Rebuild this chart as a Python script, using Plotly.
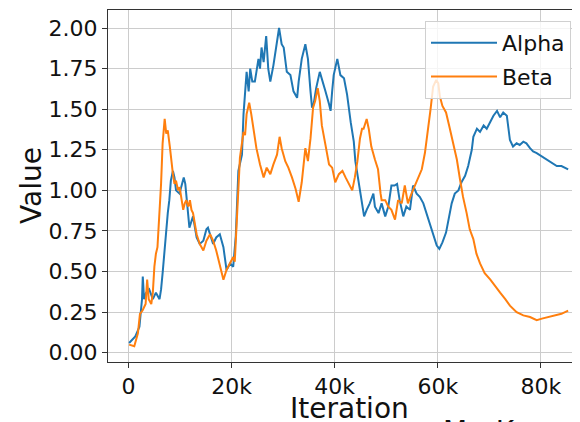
import plotly.graph_objects as go

# ---- data (iterations in thousands, values) ----
alpha_iter_k = [0.1, 1.3, 2.1, 2.6, 2.75, 3.0, 3.4, 4.0, 4.7, 5.3, 6.0, 6.3, 6.6, 6.9, 7.3, 7.6, 7.9, 8.2, 8.6, 8.9,
                9.2, 9.9, 10.2, 10.7, 11.0, 11.5, 11.8, 12.5, 13.2, 13.8, 14.5, 15.1, 15.4, 15.8, 16.4, 17.0, 17.7,
                18.4, 19.0, 19.7, 20.3, 20.8, 21.3, 22.0, 22.3, 22.9, 23.3, 23.6, 24.0, 24.5, 25.2, 25.5, 25.8,
                26.2, 26.7, 27.1, 27.5, 28.1, 28.8, 29.2, 29.7, 30.1, 30.7, 31.4, 32.0, 32.7, 33.0, 33.6, 34.3,
                34.8, 35.3, 35.6, 35.9, 36.4, 37.1, 37.5, 38.2, 38.9, 39.2, 39.5, 39.8, 40.5, 41.1, 41.8, 42.4,
                43.1, 43.7, 44.0, 44.4, 44.9, 45.3, 45.7, 46.2, 46.8, 47.5, 47.8, 48.5, 49.1, 49.8, 50.4, 51.0,
                51.6, 52.1, 52.6, 53.3, 53.9, 54.6, 55.2, 55.9, 56.5, 57.2, 57.8, 58.5, 59.1, 59.8, 60.3, 60.9,
                61.6, 62.1, 62.7, 63.3, 64.0, 64.6, 65.3, 65.9, 66.6, 66.9, 67.6, 68.2, 68.9, 69.5, 70.2, 70.8,
                71.5, 72.1, 72.7, 73.4, 74.0, 74.6, 75.3, 75.9, 76.6, 77.2, 77.9, 78.5, 79.2, 80.2, 81.1, 82.1,
                83.1, 84.0, 85.3]
alpha_values = [0.06, 0.10, 0.16, 0.33, 0.47, 0.33, 0.37, 0.39, 0.33, 0.37, 0.33, 0.39, 0.49, 0.61, 0.73, 0.86, 0.94,
                1.06, 1.12, 1.08, 1.00, 0.98, 1.02, 1.08, 1.04, 0.88, 0.77, 0.84, 0.71, 0.67, 0.69, 0.76, 0.77, 0.73,
                0.67, 0.71, 0.73, 0.65, 0.51, 0.55, 0.53, 0.72, 1.12, 1.22, 1.47, 1.73, 1.61, 1.75, 1.67, 1.67, 1.81,
                1.75, 1.88, 1.79, 1.95, 1.75, 1.67, 1.77, 1.92, 2.00, 1.90, 1.88, 1.73, 1.71, 1.61, 1.57, 1.67, 1.81,
                1.90, 1.81, 1.61, 1.51, 1.53, 1.63, 1.73, 1.69, 1.61, 1.53, 1.49, 1.61, 1.71, 1.81, 1.71, 1.69, 1.59,
                1.42, 1.30, 1.18, 1.10, 1.00, 0.94, 0.84, 0.88, 0.92, 0.98, 0.90, 0.86, 0.92, 0.84, 0.90, 1.03, 1.03,
                1.04, 0.94, 0.84, 0.90, 0.88, 1.03, 0.98, 0.96, 0.92, 0.86, 0.78, 0.72, 0.66, 0.64, 0.68, 0.74, 0.82,
                0.92, 0.98, 1.00, 1.05, 1.09, 1.15, 1.25, 1.33, 1.38, 1.36, 1.40, 1.38, 1.42, 1.46, 1.49, 1.45, 1.48,
                1.46, 1.31, 1.27, 1.29, 1.28, 1.30, 1.29, 1.26, 1.24, 1.23, 1.21, 1.19, 1.17, 1.15, 1.15, 1.13]

beta_iter_k = [0.1, 1.1, 1.8, 2.2, 2.7, 3.3, 3.6, 3.9, 4.4, 4.7, 5.0, 5.3, 5.6, 6.0, 6.3, 6.6, 7.0, 7.3, 7.6, 8.0,
               8.3, 8.6, 8.9, 9.2, 9.6, 9.9, 10.3, 10.6, 10.9, 11.2, 11.6, 11.9, 12.2, 12.5, 13.2, 13.8, 14.5, 15.1,
               15.8, 16.4, 17.0, 17.7, 18.4, 19.0, 19.7, 20.3, 20.6, 21.0, 21.3, 21.6, 22.3, 22.6, 22.9, 23.4, 23.8,
               24.4, 24.8, 25.5, 26.2, 26.8, 27.5, 28.1, 28.8, 29.3, 29.7, 30.4, 31.0, 31.7, 32.4, 33.0, 33.6, 34.3,
               34.8, 35.3, 35.8, 36.2, 36.7, 37.1, 37.5, 38.2, 38.9, 39.5, 40.1, 40.8, 41.5, 42.1, 42.8, 43.4, 43.9,
               44.4, 44.9, 45.3, 45.6, 46.2, 46.6, 47.1, 47.8, 48.4, 48.9, 49.1, 49.8, 50.4, 51.0, 51.7, 52.3, 53.0,
               53.6, 54.2, 54.9, 55.6, 56.2, 56.9, 57.5, 58.1, 58.6, 59.1, 59.7, 60.1, 60.4, 60.9, 61.6, 62.2, 62.9,
               63.7, 64.3, 64.9, 65.6, 66.2, 66.9, 67.5, 68.2, 69.1, 70.2, 71.1, 72.1, 73.1, 74.0, 75.3, 76.6, 77.9,
               79.2, 80.2, 81.5, 82.8, 84.0, 85.3]
beta_values = [0.05, 0.04, 0.12, 0.24, 0.26, 0.30, 0.45, 0.33, 0.30, 0.37, 0.53, 0.61, 0.65, 0.84, 1.04, 1.29, 1.44,
               1.35, 1.37, 1.27, 1.17, 1.10, 1.04, 1.06, 1.00, 1.02, 0.94, 0.88, 0.92, 0.94, 0.90, 0.94, 0.88, 0.86,
               0.73, 0.67, 0.63, 0.69, 0.73, 0.69, 0.63, 0.53, 0.45, 0.51, 0.55, 0.59, 0.56, 0.85, 1.01, 1.20, 1.36,
               1.34, 1.47, 1.54, 1.47, 1.36, 1.26, 1.16, 1.08, 1.14, 1.10, 1.16, 1.22, 1.33, 1.26, 1.18, 1.14, 1.08,
               1.01, 0.93, 1.05, 1.26, 1.18, 1.32, 1.51, 1.55, 1.63, 1.55, 1.40, 1.28, 1.16, 1.14, 1.05, 1.10, 1.12,
               1.08, 1.04, 1.00, 1.08, 1.18, 1.32, 1.38, 1.38, 1.44, 1.38, 1.27, 1.19, 1.13, 0.98, 0.94, 0.94, 0.90,
               0.88, 0.82, 0.94, 0.92, 1.03, 0.92, 0.98, 1.03, 1.07, 1.13, 1.23, 1.36, 1.50, 1.64, 1.68, 1.66, 1.58,
               1.52, 1.48, 1.40, 1.31, 1.19, 1.07, 0.96, 0.86, 0.76, 0.70, 0.61, 0.55, 0.49, 0.45, 0.41, 0.37, 0.33,
               0.29, 0.25, 0.23, 0.22, 0.20, 0.21, 0.22, 0.23, 0.24, 0.26]

x_tick_vals = [0, 20000, 40000, 60000, 80000]
x_tick_text = ["0", "20k", "40k", "60k", "80k"]
y_tick_vals = [0.0, 0.25, 0.5, 0.75, 1.0, 1.25, 1.5, 1.75, 2.0]
y_tick_text = ["0.00", "0.25", "0.50", "0.75", "1.00", "1.25", "1.50", "1.75", "2.00"]

FONT = "DejaVu Sans"
OFF = 8                      # page body margin
W, H = 580 - OFF, 422 - OFF
L, T = 108 - OFF, 10 - OFF
PLOT_BOTTOM = 362 - OFF
B = H - PLOT_BOTTOM
plot_w = W - L
plot_h = PLOT_BOTTOM - T


def px_x(p):
    return (p - OFF - L) / plot_w


def px_y(p):
    return (PLOT_BOTTOM - (p - OFF)) / plot_h


fig = go.Figure()
fig.add_trace(go.Scatter(x=[v * 1000 for v in alpha_iter_k], y=alpha_values, mode="lines", name="Alpha",
                         line=dict(color="#1f77b4", width=2), legendgroup="a"))
fig.add_trace(go.Scatter(x=[v * 1000 for v in beta_iter_k], y=beta_values, mode="lines", name="Beta",
                         line=dict(color="#ff7f0e", width=2), legendgroup="b"))

axis_common = dict(showgrid=True, gridcolor="#cccccc", gridwidth=1, zeroline=False,
                   showline=True, linecolor="#333333", linewidth=1,
                   ticks="outside", ticklen=5, tickcolor="#333333",
                   tickfont=dict(family=FONT, size=22, color="#111111"))

fig.update_layout(
    width=W, height=H,
    margin=dict(l=L, r=0, t=T, b=B, autoexpand=False),
    paper_bgcolor="white", plot_bgcolor="white",
    font=dict(family=FONT, color="#111111"),
    xaxis=dict(range=[-4000, 87600], tickvals=x_tick_vals, ticktext=x_tick_text, mirror=True, **axis_common),
    yaxis=dict(range=[-0.057, 2.111], tickvals=y_tick_vals, ticktext=y_tick_text, **axis_common),
    legend=dict(x=px_x(425), xanchor="left", y=px_y(21), yanchor="top",
                bgcolor="rgba(255,255,255,0.8)", bordercolor="#d0d0d0", borderwidth=1,
                font=dict(family=FONT, size=22, color="#111111"), tracegroupgap=2, itemwidth=66),
    showlegend=True,
    annotations=[
        dict(text="Value", textangle=-90, xref="paper", yref="paper",
             x=px_x(31), y=px_y(186), xanchor="center", yanchor="middle", showarrow=False,
             font=dict(family=FONT, size=28, color="#111111")),
        dict(text="Iteration", xref="paper", yref="paper",
             x=px_x(349), y=px_y(408), xanchor="center", yanchor="middle",
             showarrow=False, font=dict(family=FONT, size=28, color="#111111")),
        dict(text="MarKov", xref="paper", yref="paper",
             x=px_x(441), y=px_y(413), xanchor="left", yanchor="top",
             showarrow=False, font=dict(family=FONT, size=28, color="#111111")),
    ],
)

fig.write_html("out.html")
